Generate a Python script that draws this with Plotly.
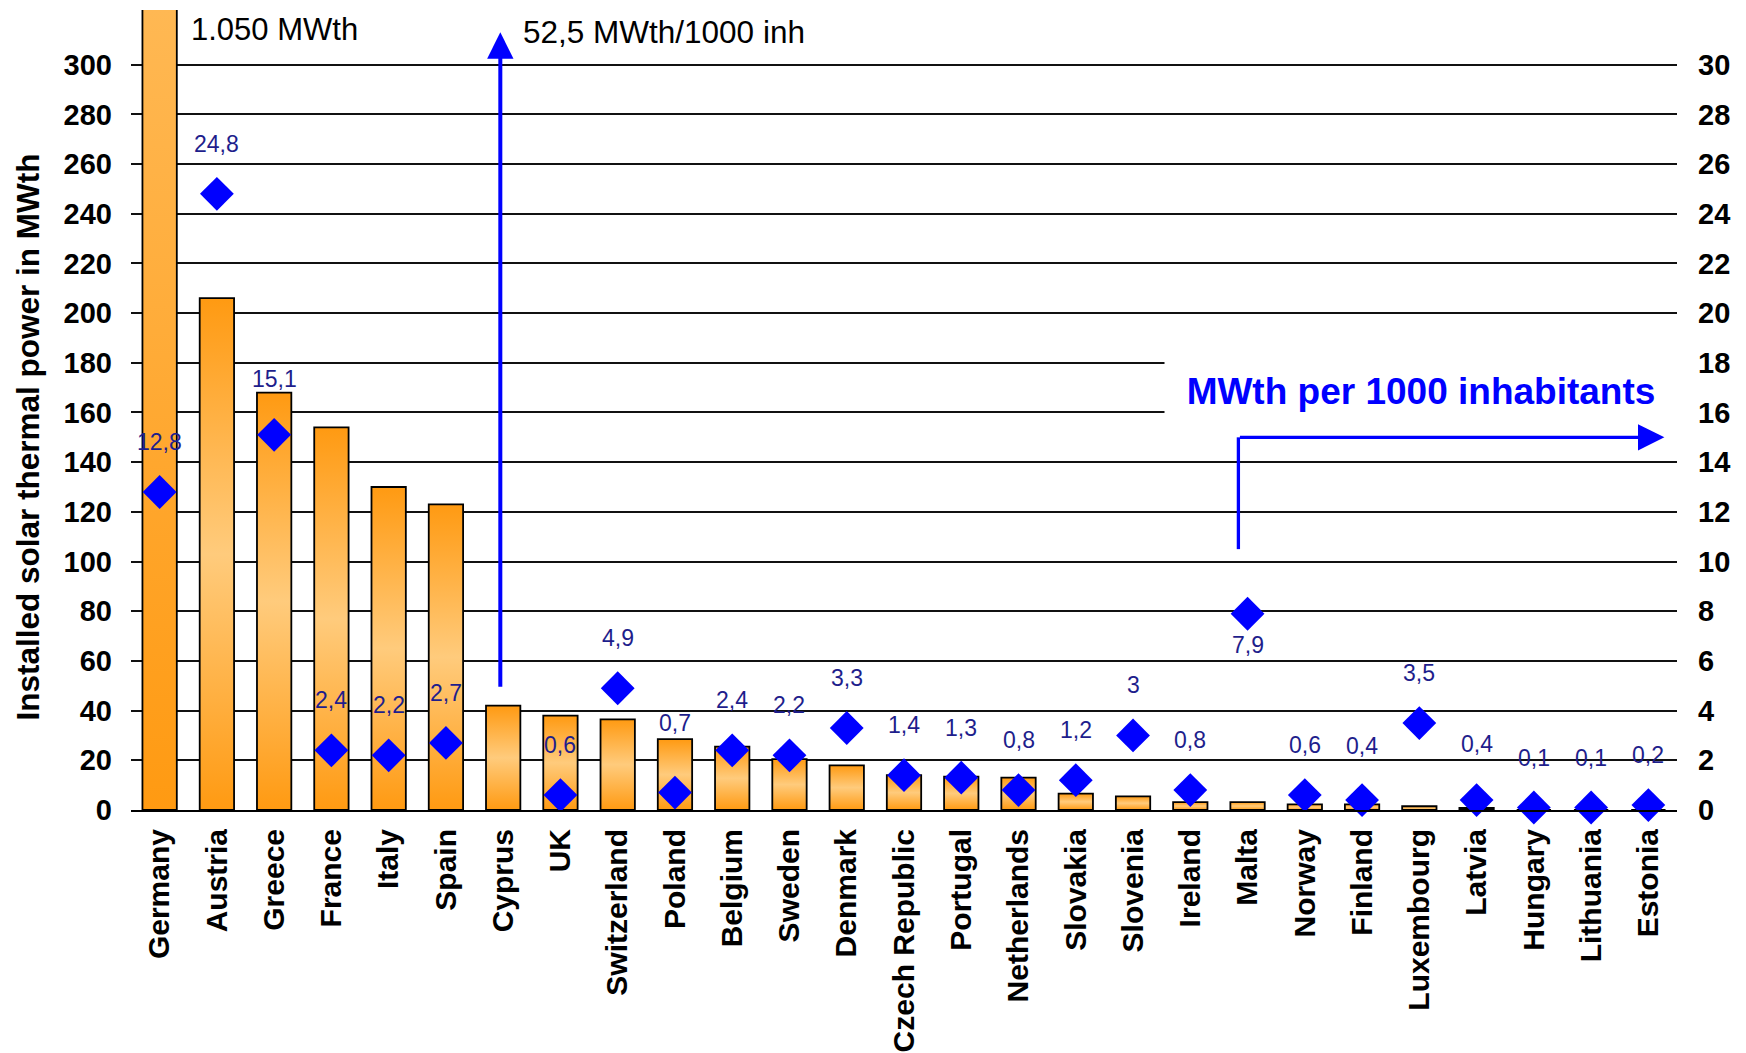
import plotly.graph_objects as go

# ---- data -------------------------------------------------------------
countries = [
    "Germany", "Austria", "Greece", "France", "Italy", "Spain", "Cyprus", "UK",
    "Switzerland", "Poland", "Belgium", "Sweden", "Denmark", "Czech Republic",
    "Portugal", "Netherlands", "Slovakia", "Slovenia", "Ireland", "Malta",
    "Norway", "Finland", "Luxembourg", "Latvia", "Hungary", "Lithuania", "Estonia",
]
# installed solar thermal power, MWth (left axis)
capacity_mwth = [
    1050, 206, 168, 154, 130, 123, 42, 38,
    36.5, 28.5, 25.5, 20.5, 18, 14,
    13.4, 13, 6.6, 5.5, 3.2, 3.2,
    2.3, 2.3, 1.5, 0.8, 0.3, 0.2, 0.2,
]
# MWth per 1000 inhabitants (right axis)
per_1000_inh = [
    12.8, 24.8, 15.1, 2.4, 2.2, 2.7, 52.5, 0.6,
    4.9, 0.7, 2.4, 2.2, 3.3, 1.4,
    1.3, 0.8, 1.2, 3, 0.8, 7.9,
    0.6, 0.4, 3.5, 0.4, 0.1, 0.1, 0.2,
]
left_ticks = list(range(0, 301, 20))
right_ticks = list(range(0, 31, 2))

# ---- styling ----------------------------------------------------------
FONT = "Liberation Sans, Arial, Helvetica, sans-serif"
BAR_DARK = "#FF9A12"
BAR_LIGHT = "#FFCB7C"
DIAMOND = "#0000FF"
LABEL_NAVY = "#1E1E8C"
BAR_HALF = 0.3
Y_MAX = 322
Y2_MAX = Y_MAX / 10

# vertical offset (px) of the value label from its diamond
label_shift_default = 50
label_shift = {"Greece": 56, "Poland": 70, "Finland": 54, "Latvia": 56, "Malta": -31}


def fmt(v):
    return f"{v:g}".replace(".", ",")


fig = go.Figure()

# bars with a vertical dark-light-dark gradient
for i, (name, v) in enumerate(zip(countries, capacity_mwth)):
    fig.add_trace(go.Scatter(
        x=[i - BAR_HALF, i + BAR_HALF, i + BAR_HALF, i - BAR_HALF, i - BAR_HALF],
        y=[0, 0, v, v, 0],
        mode="lines",
        fill="toself",
        fillgradient=dict(type="vertical",
                          colorscale=[[0, BAR_DARK], [0.5, BAR_LIGHT], [1, BAR_DARK]]),
        line=dict(color="black", width=1.8),
        name=name,
        hoverinfo="skip",
        showlegend=False,
    ))

# per-capita diamonds on the right axis
fig.add_trace(go.Scatter(
    x=list(range(len(countries))),
    y=per_1000_inh,
    yaxis="y2",
    mode="markers",
    marker=dict(symbol="diamond", size=26, color=DIAMOND, line=dict(width=0)),
    cliponaxis=False,
    showlegend=False,
    hovertext=countries,
))

annotations = []
for i, (name, v) in enumerate(zip(countries, per_1000_inh)):
    if v > Y2_MAX:
        continue
    annotations.append(dict(
        x=i, y=v, xref="x", yref="y2",
        text=fmt(v), showarrow=False,
        xanchor="center", yanchor="middle",
        yshift=label_shift.get(name, label_shift_default),
        font=dict(family=FONT, size=23, color=LABEL_NAVY),
    ))

# Germany's off-scale bar value
annotations.append(dict(
    x=0.51, y=314, xref="x", yref="y",
    text=f"{capacity_mwth[0]:,}".replace(",", ".") + " MWth",
    showarrow=False, xanchor="left", yanchor="middle",
    font=dict(family=FONT, size=31, color="black"),
))

# Cyprus off-scale per-capita value with upward arrow
cy = countries.index("Cyprus")
annotations.append(dict(
    x=cy - 0.05, y=313, xref="x", yref="y",
    ax=cy - 0.05, ay=49, axref="x", ayref="y",
    text="", showarrow=True, arrowhead=2, arrowsize=1.32,
    arrowwidth=4, arrowcolor=DIAMOND, standoff=0,
))
annotations.append(dict(
    x=cy + 0.31, y=313, xref="x", yref="y",
    text=f"{fmt(per_1000_inh[cy])} MWth/1000 inh",
    showarrow=False, xanchor="left", yanchor="middle",
    font=dict(family=FONT, size=31.5, color="black"),
))

# right-axis series caption with white box and bent arrow
annotations.append(dict(
    x=22.03, y=16.85, xref="x", yref="y2",
    text="<b>MWth per 1000 inhabitants</b>",
    showarrow=False, xanchor="center", yanchor="middle",
    width=510, height=74, bgcolor="white",
    font=dict(family=FONT, size=37, color=DIAMOND),
))
annotations.append(dict(
    x=26.28, y=15, xref="x", yref="y2",
    ax=18.84, ay=15, axref="x", ayref="y2",
    text="", showarrow=True, arrowhead=2, arrowsize=1.6,
    arrowwidth=3.3, arrowcolor=DIAMOND, standoff=0,
))

# left axis title
annotations.append(dict(
    x=-0.0665, y=150, xref="paper", yref="y",
    text="<b>Installed solar thermal power in MWth</b>",
    textangle=-90, showarrow=False,
    xanchor="center", yanchor="middle",
    font=dict(family=FONT, size=31.5, color="black"),
))

shapes = [dict(
    type="line", xref="x", yref="y2",
    x0=18.84, x1=18.84, y0=15, y1=10.5,
    line=dict(color=DIAMOND, width=3.3),
)]

boundaries = [i - 0.5 for i in range(len(countries) + 1)]
x_range = [-0.5, len(countries) - 0.5]
tick_font = dict(family=FONT, size=29, color="black", weight="bold")
cat_font = dict(family=FONT, size=30, color="black", weight="bold")

fig.update_layout(
    width=1746, height=1053,
    margin=dict(l=131, r=69, t=10, b=243, autoexpand=False),
    paper_bgcolor="white", plot_bgcolor="white",
    font=dict(family=FONT, color="black"),
    showlegend=False,
    xaxis=dict(
        range=x_range, tickmode="array",
        tickvals=list(range(len(countries))), ticktext=countries,
        tickangle=-90, ticks="", ticklabelstandoff=5,
        tickfont=cat_font, automargin=False,
        showline=True, linecolor="black", linewidth=2,
        showgrid=False, zeroline=False,
    ),
    xaxis2=dict(
        overlaying="x", anchor="y", range=x_range,
        tickmode="array", tickvals=boundaries, showticklabels=False,
        ticks="outside", ticklen=9, tickwidth=2, tickcolor="black",
        showgrid=False, zeroline=False, showline=False, automargin=False,
    ),
    xaxis3=dict(
        overlaying="x", anchor="y", range=x_range,
        tickmode="array", tickvals=boundaries, showticklabels=False,
        ticks="inside", ticklen=9, tickwidth=2, tickcolor="black",
        showgrid=False, zeroline=False, showline=False, automargin=False,
    ),
    yaxis=dict(
        range=[0, Y_MAX], tickmode="array", tickvals=left_ticks,
        ticks="", ticklabelstandoff=18, tickfont=tick_font,
        showgrid=True, gridcolor="#111111", gridwidth=2,
        zeroline=False, showline=False, automargin=False,
    ),
    yaxis2=dict(
        overlaying="y", side="right", anchor="x",
        range=[0, Y2_MAX], tickmode="array", tickvals=right_ticks,
        ticks="", ticklabelstandoff=20, tickfont=tick_font,
        showgrid=False, zeroline=False, showline=False, automargin=False,
    ),
    annotations=annotations,
    shapes=shapes,
)

fig.write_html("out.html")
